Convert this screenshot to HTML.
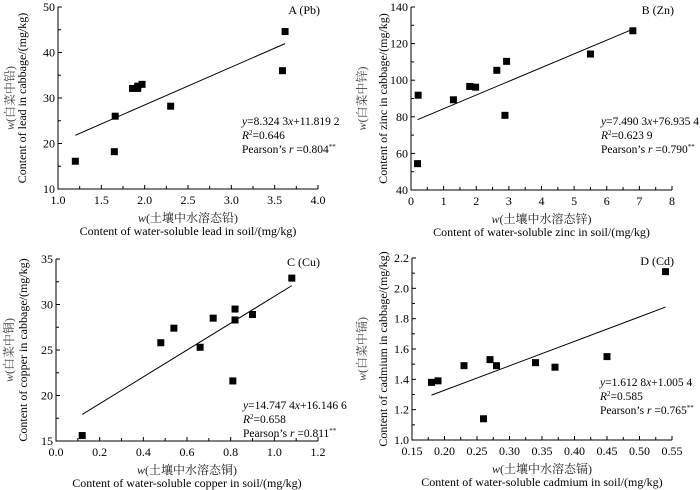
<!DOCTYPE html>
<html><head><meta charset="utf-8"><style>
body{margin:0;background:#fff;}
svg{display:block;font-family:"Liberation Serif","Noto Serif CJK SC",serif;}
</style></head><body>
<svg id="c" width="700" height="490" viewBox="0 0 700 490"></svg>
<script>
const pbX=[1.2,1.65,1.66,1.86,1.92,1.92,1.97,2.3,3.59,3.62];
const pbY=[16.1,18.2,26,32.1,32.1,32.6,33,28.2,36,44.6];
const znX=[0.2,0.22,1.3,1.8,1.98,2.63,2.88,2.93,5.5,6.8];
const znY=[54.4,91.8,89.3,96.6,96.2,105.4,80.8,110.3,114.3,127];
const cuX=[0.12,0.48,0.54,0.66,0.72,0.81,0.82,0.82,0.9,1.08];
const cuY=[15.6,25.8,27.4,25.3,28.5,21.6,29.5,28.3,28.9,32.9];
const cdX=[0.18,0.19,0.23,0.26,0.27,0.28,0.34,0.37,0.45,0.54];
const cdY=[1.38,1.39,1.49,1.14,1.53,1.49,1.51,1.48,1.55,2.11];
const pbXTicks=["1.0","1.5","2.0","2.5","3.0","3.5","4.0"];
const pbYTicks=["10","20","30","40","50"];
const znXTicks=["0","1","2","3","4","5","6","7","8"];
const znYTicks=["40","60","80","100","120","140"];
const cuXTicks=["0.0","0.2","0.4","0.6","0.8","1.0","1.2"];
const cuYTicks=["15","20","25","30","35"];
const cdXTicks=["0.15","0.20","0.25","0.30","0.35","0.40","0.45","0.50","0.55"];
const cdYTicks=["1.0","1.2","1.4","1.6","1.8","2.0","2.2"];
const fits=[[8.3243,11.8192],[7.4903,76.9354],[14.7474,16.1466],[1.6128,1.0054]];

const NS="http://www.w3.org/2000/svg";
const svg=document.getElementById('c');
function mk(tag,attrs,parent,txt){const e=document.createElementNS(NS,tag);for(const k in attrs)e.setAttribute(k,attrs[k]);if(txt!==undefined)e.textContent=txt;(parent||svg).appendChild(e);return e;}
function rich(parent,attrs,parts){const t=mk('text',attrs,parent);parts.forEach(([s,st])=>{const a={};if(st&&st.includes('i'))a['font-style']='italic';if(st&&st.includes('s')){a['baseline-shift']='super';a['font-size']='7';}mk('tspan',a,t,s);});return t;}

const panels=[
 {key:'pb',X:pbX,Y:pbY,xt:pbXTicks,yt:pbYTicks,fit:fits[0],L:58,R:318,T:7,B:189,title:'A (Pb)',cn:'白菜中铅',en:'Content of lead in cabbage/(mg/kg)',xcn:'土壤中水溶态铅',xen:'Content of water-soluble lead in soil/(mg/kg)',eq:['8.324 3','+11.819 2','0.646','0.804'],ex:242,ey:125,ycn:14,yen:26},
 {key:'zn',X:znX,Y:znY,xt:znXTicks,yt:znYTicks,fit:fits[1],L:411,R:672,T:7,B:190,title:'B (Zn)',cn:'白菜中锌',en:'Content of zinc in cabbage/(mg/kg)',xcn:'土壤中水溶态锌',xen:'Content of water-soluble zinc in soil/(mg/kg)',eq:['7.490 3','+76.935 4','0.623 9','0.790'],ex:601,ey:125,ycn:366,yen:387},
 {key:'cu',X:cuX,Y:cuY,xt:cuXTicks,yt:cuYTicks,fit:fits[2],L:56,R:318,T:259,B:441,title:'C (Cu)',cn:'白菜中铜',en:'Content of copper in cabbage/(mg/kg)',xcn:'土壤中水溶态铜',xen:'Content of water-soluble copper in soil/(mg/kg)',eq:['14.747 4','+16.146 6','0.658','0.811'],ex:243,ey:409,ycn:13,yen:27},
 {key:'cd',X:cdX,Y:cdY,xt:cdXTicks,yt:cdYTicks,fit:fits[3],L:412,R:672,T:258,B:440,title:'D (Cd)',cn:'白菜中镉',en:'Content of cadmium in cabbage/(mg/kg)',xcn:'土壤中水溶态镉',xen:'Content of water-soluble cadmium in soil/(mg/kg)',eq:['1.612 8','+1.005 4','0.585','0.765'],ex:600,ey:386,ycn:366,yen:387}
];

panels.forEach(p=>{
 const g=mk('g',{});
 
 
 const x0=+p.xt[0],x1=+p.xt[p.xt.length-1],y0=+p.yt[0],y1=+p.yt[p.yt.length-1];
 const sx=v=>p.L+(v-x0)/(x1-x0)*(p.R-p.L);
 const sy=v=>p.B-(v-y0)/(y1-y0)*(p.B-p.T);
 const ax=mk('path',{d:`M${p.L},${p.T}V${p.B}H${p.R}`,fill:'none',stroke:'#000','stroke-width':1},g);
 
 
 const nx=p.xt.length-1, ny=p.yt.length-1;
 for(let i=0;i<=nx*2;i++){const v=x0+(x1-x0)*i/(nx*2);const X=sx(v);mk('line',{x1:X,x2:X,y1:p.B,y2:p.B-(i%2?3:4),stroke:'#000'},g);}
 for(let i=0;i<=ny*2;i++){const v=y0+(y1-y0)*i/(ny*2);const Y=sy(v);mk('line',{x1:p.L,x2:p.L+(i%2?3:4),y1:Y,y2:Y,stroke:'#000'},g);}
 p.xt.forEach(t=>{const e=mk('text',{x:sx(+t),y:p.B+15,'text-anchor':'middle','font-size':12},g,t);});
 p.yt.forEach(t=>{const e=mk('text',{x:p.L-3,y:sy(+t)+4,'text-anchor':'end','font-size':12},g,t);});
 const xmin=Math.min(...p.X),xmax=Math.max(...p.X);
 const fl=mk('line',{x1:sx(xmin),y1:sy(p.fit[0]*xmin+p.fit[1]),x2:sx(xmax),y2:sy(p.fit[0]*xmax+p.fit[1]),stroke:'#000','stroke-width':1},g);
 
 
 p.X.forEach((v,i)=>{const r=mk('rect',{x:sx(v)-3.5,y:sy(p.Y[i])-3.5,width:7,height:7,fill:'#000'},g);});
 const tt=mk('text',{x:p.R+2,y:p.T+7,'text-anchor':'end','font-size':12},g,p.title);
 
 const fa={x:p.ex,'font-size':11.5};
 const e1=rich(g,Object.assign({y:p.ey},fa),[['y','i'],['='+p.eq[0]],['x','i'],[p.eq[1]]]);
 
 const e2=rich(g,Object.assign({y:p.ey+14},fa),[['R','i'],['2','s'],['='+p.eq[2]]]);
 
 const e3=rich(g,Object.assign({y:p.ey+28},fa),[['Pearson\u2019s '],['r','i'],[' ='+p.eq[3]],['**','s']]);
 
 const cy=(p.T+p.B)/2;
 const a=rich(g,{x:p.ycn,y:cy,'text-anchor':'middle','font-size':12,fill:'#444',transform:`rotate(-90 ${p.ycn} ${cy})`},[['w','i'],['('+p.cn+')']]);
 
 const b=mk('text',{x:p.yen,y:cy,'text-anchor':'middle','font-size':12,transform:`rotate(-90 ${p.yen} ${cy})`},g,p.en);
 
 const cx=(p.L+p.R)/2;
 const c=rich(g,{x:cx,y:p.B+33,'text-anchor':'middle','font-size':12,fill:'#222'},[['w','i'],['('+p.xcn+')']]);
 
 const d=mk('text',{x:cx,y:p.B+46,'text-anchor':'middle','font-size':12},g,p.xen);
 
});
</script>
</body></html>
